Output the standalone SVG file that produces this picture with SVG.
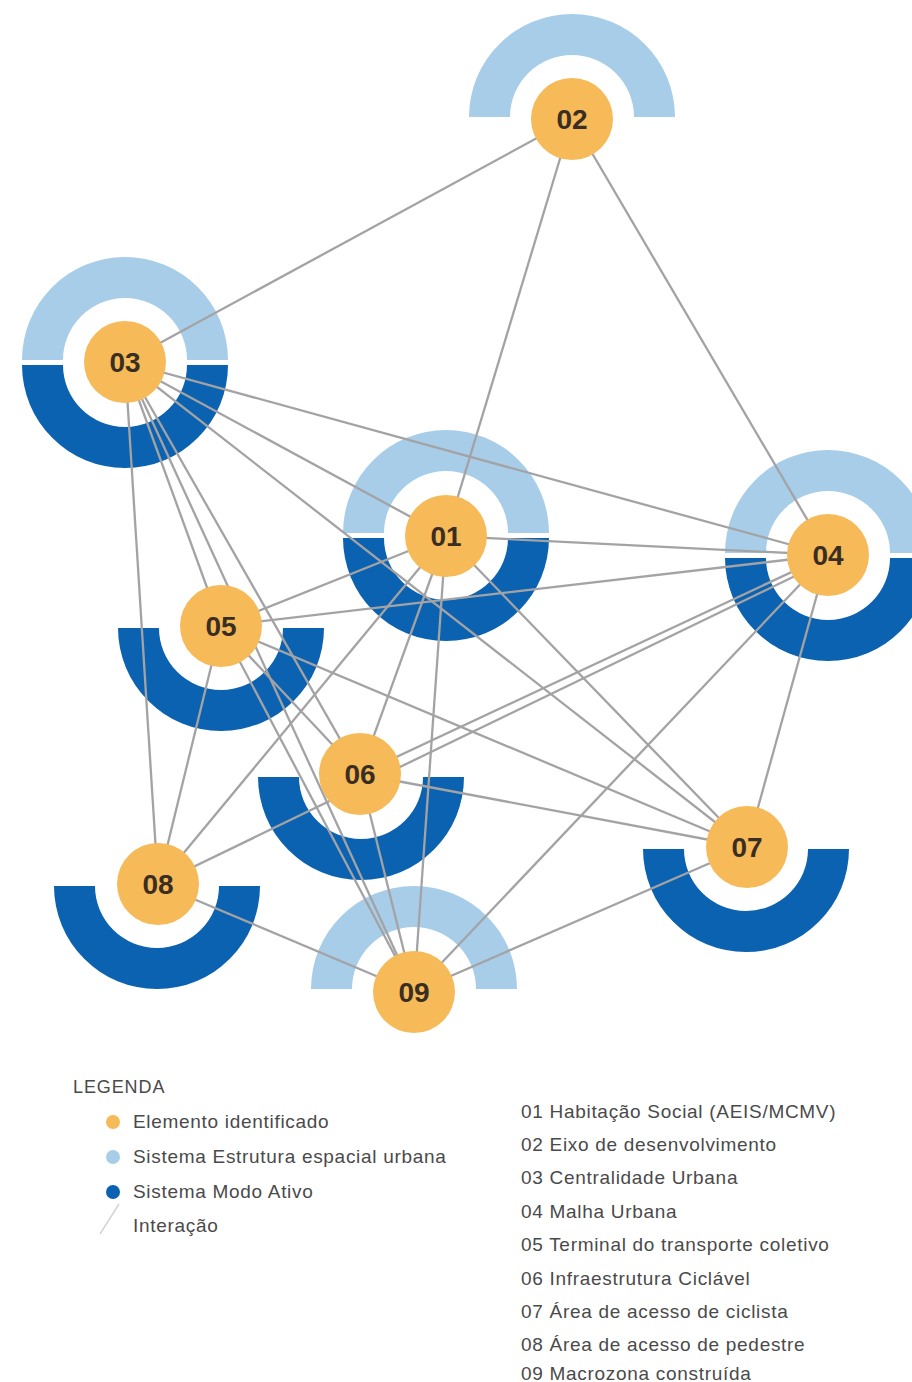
<svg xmlns="http://www.w3.org/2000/svg" width="912" height="1382" viewBox="0 0 912 1382">
<style>
.light{fill:#A8CDE9}
.dark{fill:#0B62B0}
.node{fill:#F6BA58}
.num{font-family:"Liberation Sans",Arial,sans-serif;font-weight:bold;font-size:28px;fill:#3A2E22;text-anchor:middle}
.edges line{stroke:#A3A3A5;stroke-width:2.3;fill:none}
.leg{font-family:"Liberation Sans",Arial,sans-serif;font-size:19px;letter-spacing:0.7px;fill:#4A4A4A}
</style>
<defs>
<path id="up" d="M-103,0 A103,103 0 0 1 103,0 L62,0 A62,62 0 0 0 -62,0 Z"/>
<path id="down" d="M-103,0 A103,103 0 0 0 103,0 L62,0 A62,62 0 0 1 -62,0 Z"/>
</defs>
<rect width="912" height="1382" fill="#FFFFFF"/>

<g id="rings">
<use href="#up" x="572" y="117" class="light"/>
<use href="#up" x="125" y="360" class="light"/>
<use href="#down" x="125" y="365" class="dark"/>
<use href="#up" x="446" y="533" class="light"/>
<use href="#down" x="446" y="538" class="dark"/>
<use href="#up" x="828" y="553" class="light"/>
<use href="#down" x="828" y="558" class="dark"/>
<use href="#down" x="221" y="628" class="dark"/>
<use href="#down" x="361" y="777" class="dark"/>
<use href="#down" x="746" y="849" class="dark"/>
<use href="#down" x="157" y="886" class="dark"/>
<use href="#up" x="414" y="989" class="light"/>
</g>

<g id="connectors" class="edges">
<line x1="572" y1="119" x2="125" y2="362"/>
<line x1="572" y1="119" x2="446" y2="536"/>
<line x1="572" y1="119" x2="828" y2="555"/>
<line x1="125" y1="362" x2="828" y2="555"/>
<line x1="125" y1="362" x2="446" y2="536"/>
<line x1="125" y1="362" x2="747" y2="847"/>
<line x1="125" y1="362" x2="360" y2="774"/>
<line x1="125" y1="362" x2="414" y2="992"/>
<line x1="125" y1="362" x2="221" y2="626"/>
<line x1="125" y1="362" x2="158" y2="884"/>
<line x1="446" y1="536" x2="828" y2="555"/>
<line x1="446" y1="536" x2="221" y2="626"/>
<line x1="446" y1="536" x2="360" y2="774"/>
<line x1="446" y1="536" x2="158" y2="884"/>
<line x1="446" y1="536" x2="414" y2="992"/>
<line x1="446" y1="536" x2="747" y2="847"/>
<line x1="828" y1="555" x2="221" y2="626"/>
<line x1="828" y1="555" x2="360" y2="774"/>
<line x1="828" y1="560" x2="158" y2="884"/>
<line x1="828" y1="555" x2="747" y2="847"/>
<line x1="828" y1="555" x2="414" y2="992"/>
<line x1="221" y1="626" x2="360" y2="774"/>
<line x1="221" y1="626" x2="747" y2="847"/>
<line x1="221" y1="626" x2="158" y2="884"/>
<line x1="221" y1="626" x2="414" y2="992"/>
<line x1="360" y1="774" x2="747" y2="847"/>
<line x1="360" y1="774" x2="414" y2="992"/>
<line x1="747" y1="847" x2="414" y2="992"/>
<line x1="158" y1="884" x2="414" y2="992"/>
</g>

<g id="node-02"><circle cx="572" cy="119" r="41" class="node"/><text x="572" y="129" class="num">02</text></g>
<g id="node-03"><circle cx="125" cy="362" r="41" class="node"/><text x="125" y="372" class="num">03</text></g>
<g id="node-01"><circle cx="446" cy="536" r="41" class="node"/><text x="446" y="546" class="num">01</text></g>
<g id="node-04"><circle cx="828" cy="555" r="41" class="node"/><text x="828" y="565" class="num">04</text></g>
<g id="node-05"><circle cx="221" cy="626" r="41" class="node"/><text x="221" y="636" class="num">05</text></g>
<g id="node-06"><circle cx="360" cy="774" r="41" class="node"/><text x="360" y="784" class="num">06</text></g>
<g id="node-07"><circle cx="747" cy="847" r="41" class="node"/><text x="747" y="857" class="num">07</text></g>
<g id="node-08"><circle cx="158" cy="884" r="41" class="node"/><text x="158" y="894" class="num">08</text></g>
<g id="node-09"><circle cx="414" cy="992" r="41" class="node"/><text x="414" y="1002" class="num">09</text></g>

<g id="legend">
<text x="73" y="1093" class="leg" style="font-size:18px;letter-spacing:0.9px">LEGENDA</text>
<circle cx="113" cy="1122" r="7" class="node"/>
<text x="133" y="1128" class="leg">Elemento identificado</text>
<circle cx="113" cy="1157" r="7" class="light"/>
<text x="133" y="1163" class="leg">Sistema Estrutura espacial urbana</text>
<circle cx="113" cy="1192" r="7" class="dark"/>
<text x="133" y="1198" class="leg">Sistema Modo Ativo</text>
<line x1="100" y1="1234" x2="119" y2="1204" stroke="#D4D4D4" stroke-width="1.5"/>
<text x="133" y="1232" class="leg">Interação</text>
</g>

<g id="key">
<text x="521" y="1118" class="leg">01 Habitação Social (AEIS/MCMV)</text>
<text x="521" y="1151" class="leg">02 Eixo de desenvolvimento</text>
<text x="521" y="1184" class="leg">03 Centralidade Urbana</text>
<text x="521" y="1218" class="leg">04 Malha Urbana</text>
<text x="521" y="1251" class="leg">05 Terminal do transporte coletivo</text>
<text x="521" y="1285" class="leg">06 Infraestrutura Ciclável</text>
<text x="521" y="1318" class="leg">07 Área de acesso de ciclista</text>
<text x="521" y="1351" class="leg">08 Área de acesso de pedestre</text>
<text x="521" y="1380" class="leg">09 Macrozona construída</text>
</g>
</svg>
